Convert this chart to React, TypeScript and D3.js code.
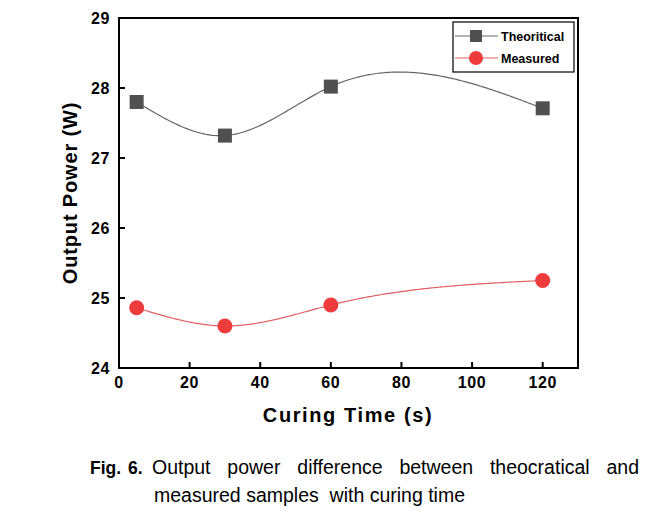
import React, { useLayoutEffect, useRef } from "react";
import * as d3 from "d3";

const times = [5, 30, 60, 120];
const theoretical = [27.8, 27.32, 28.02, 27.71];
const measured = [24.86, 24.6, 24.9, 25.25];
const xTicks = [0, 20, 40, 60, 80, 100, 120];
const yTicks = [24, 25, 26, 27, 28, 29];
const captionLine1 = ["Output", "power", "difference", "between", "theocratical", "and"];

// natural cubic spline in data space (as Origin's spline connector)
function naturalSpline(xs: number[], ys: number[]) {
  const n = xs.length;
  const h = d3.range(n - 1).map((i) => xs[i + 1] - xs[i]);
  const M = new Array(n).fill(0);
  const m = n - 2;
  if (m > 0) {
    const a: number[] = [], b: number[] = [], c: number[] = [], d: number[] = [];
    for (let i = 1; i <= m; i++) {
      a.push(h[i - 1]);
      b.push(2 * (h[i - 1] + h[i]));
      c.push(h[i]);
      d.push(6 * ((ys[i + 1] - ys[i]) / h[i] - (ys[i] - ys[i - 1]) / h[i - 1]));
    }
    for (let i = 1; i < m; i++) {
      const w = a[i] / b[i - 1];
      b[i] -= w * c[i - 1];
      d[i] -= w * d[i - 1];
    }
    const sol = new Array(m).fill(0);
    sol[m - 1] = d[m - 1] / b[m - 1];
    for (let i = m - 2; i >= 0; i--) sol[i] = (d[i] - c[i] * sol[i + 1]) / b[i];
    for (let i = 0; i < m; i++) M[i + 1] = sol[i];
  }
  return (x: number) => {
    let i = 0;
    while (i < n - 2 && x > xs[i + 1]) i++;
    const hi = h[i];
    const A = xs[i + 1] - x, B = x - xs[i];
    return (
      (M[i] * A * A * A) / (6 * hi) +
      (M[i + 1] * B * B * B) / (6 * hi) +
      (ys[i] / hi - (M[i] * hi) / 6) * A +
      (ys[i + 1] / hi - (M[i + 1] * hi) / 6) * B
    );
  };
}

export default function App() {
  const W = 656, H = 515;
  const left = 119, right = 578, top = 18, bottom = 368;
  const x = d3.scaleLinear().domain([0, 130]).range([left, right]);
  const y = d3.scaleLinear().domain([24, 29]).range([bottom, top]);
  const samples = d3.range(times[0], times[times.length - 1] + 0.01, 0.5);
  const line = d3.line<[number, number]>().x((p) => x(p[0])).y((p) => y(p[1]));
  const sT = naturalSpline(times, theoretical);
  const sM = naturalSpline(times, measured);
  const tPath = line(samples.map((t) => [t, sT(t)] as [number, number]));
  const mPath = line(samples.map((t) => [t, sM(t)] as [number, number]));
  const font = "'Liberation Sans', Arial, sans-serif";
  const gray = "#505050";
  const red = "#ee3b3b";
  const capStart = 152, capEnd = 639;
  const capRef = useRef<SVGGElement>(null);

  useLayoutEffect(() => {
    const g = capRef.current;
    if (!g) return;
    const nodes = Array.from(g.querySelectorAll("text")) as SVGTextElement[];
    const widths = nodes.map((n) => n.getComputedTextLength());
    const total = d3.sum(widths);
    const gap = (capEnd - capStart - total) / (nodes.length - 1);
    let cx = capStart;
    nodes.forEach((n, i) => {
      n.setAttribute("x", String(cx));
      cx += widths[i] + gap;
    });
  }, []);

  return (
    <svg width={W} height={H} style={{ position: "absolute", left: 0, top: 0 }} fontFamily={font}>
      <rect width={W} height={H} fill="#fff" />
      <path d={tPath || ""} fill="none" stroke="#666" strokeWidth={1.2} />
      <path d={mPath || ""} fill="none" stroke="#e06060" strokeWidth={1.2} />
      {times.map((t, i) => (
        <rect key={"s" + i} x={x(t) - 7} y={y(theoretical[i]) - 7} width={14} height={14} fill={gray} />
      ))}
      {times.map((t, i) => (
        <circle key={"c" + i} cx={x(t)} cy={y(measured[i])} r={7.5} fill={red} />
      ))}
      <rect x={left} y={top} width={right - left} height={bottom - top} fill="none" stroke="#000" strokeWidth={2} />
      {xTicks.map((v) => (
        <g key={"x" + v}>
          <line x1={x(v)} x2={x(v)} y1={bottom} y2={bottom - 6} stroke="#000" strokeWidth={2} />
          <text x={x(v)} y={388} textAnchor="middle" fontSize={16} fontWeight="bold" letterSpacing={0.6}>{v}</text>
        </g>
      ))}
      {yTicks.map((v) => (
        <g key={"y" + v}>
          <line x1={left} x2={left + 6} y1={y(v)} y2={y(v)} stroke="#000" strokeWidth={2} />
          <text x={110} y={y(v) + 6} textAnchor="end" fontSize={16} fontWeight="bold" letterSpacing={0.6}>{v}</text>
        </g>
      ))}
      <text x={348} y={422} textAnchor="middle" fontSize={20} fontWeight="bold" letterSpacing={1.6}>Curing Time (s)</text>
      <text transform={`translate(77,193) rotate(-90)`} textAnchor="middle" fontSize={20} fontWeight="bold" letterSpacing={0.85}>Output Power (W)</text>
      {/* legend */}
      <rect x={453} y={22} width={121} height={50} fill="#fff" stroke="#000" strokeWidth={1.2} />
      <line x1={455} x2={498} y1={36} y2={36} stroke="#666" strokeWidth={1} />
      <rect x={470} y={30} width={12} height={12} fill={gray} />
      <text x={501} y={40.5} fontSize={12.5} fontWeight="bold">Theoritical</text>
      <line x1={455} x2={498} y1={58} y2={58} stroke="#e06060" strokeWidth={1} />
      <circle cx={476} cy={58} r={7} fill={red} />
      <text x={501} y={62.5} fontSize={12.5} fontWeight="bold">Measured</text>
      {/* caption */}
      <text x={90} y={474} fontSize={17.5} fontWeight="bold" wordSpacing={2}>Fig. 6.</text>
      <g ref={capRef} fontSize={19.5}>
        {captionLine1.map((w, i) => (
          <text key={w} x={capStart + i * 80} y={474}>{w}</text>
        ))}
      </g>
      <text x={capStart + 2} y={502} fontSize={19.5} style={{ whiteSpace: "pre" }}>{"measured samples  with curing time"}</text>
    </svg>
  );
}
